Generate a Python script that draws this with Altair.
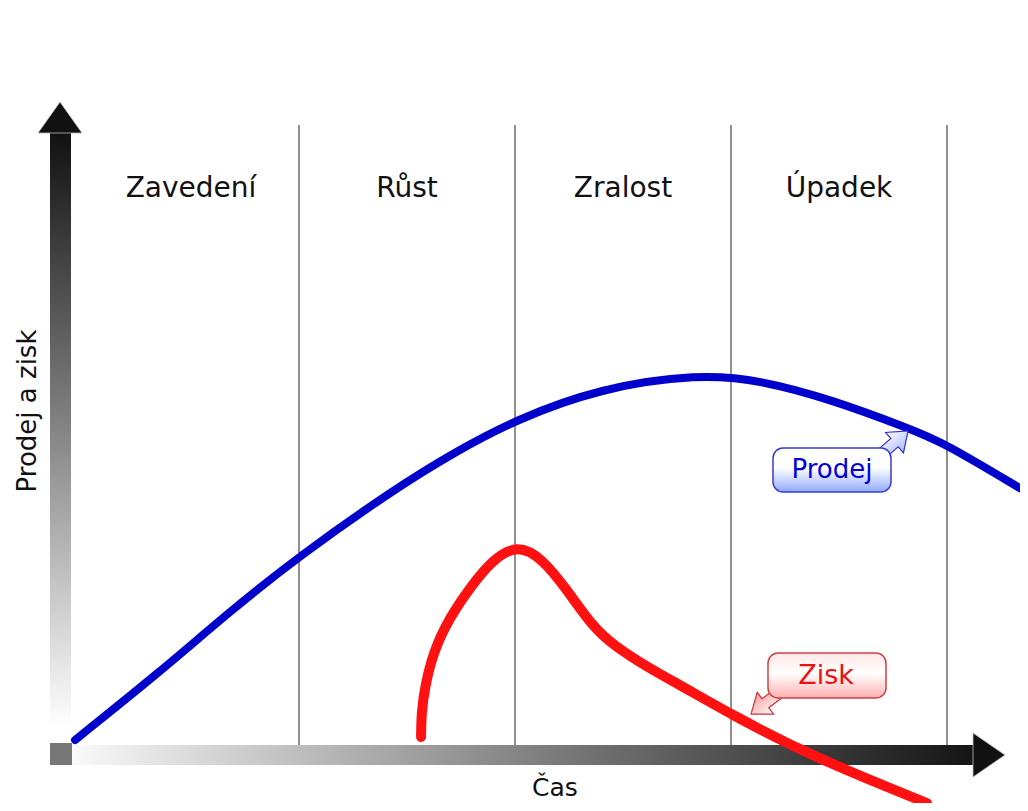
import altair as alt
import pandas as pd

# ---- data (time in phase units, sales/profit in arbitrary units) ----
phase_names = ["Zavedení", "Růst", "Zralost", "Úpadek"]
phase_centers = [0.5, 1.5, 2.5, 3.5]
phase_bounds = [1, 2, 3, 4]

sales_t = [-0.037, 0.356, 0.681, 0.995, 1.435, 1.722, 2.000, 2.394, 2.852,
           3.134, 3.472, 3.819, 3.981, 4.352]
sales_v = [0.33, 11.67, 21.8, 30.83, 42.0, 48.33, 53.67, 59.0, 61.33,
           60.33, 57.0, 52.33, 50.0, 42.0]

profit_t = [1.565, 1.567, 1.583, 1.620, 1.694, 1.801, 1.898, 2.009, 2.125,
            2.241, 2.361, 2.454, 2.625, 2.764, 3.005, 3.380, 3.907]
profit_v = [0.83, 5.0, 9.17, 14.83, 20.6, 26.2, 30.4, 32.9, 30.67,
            25.33, 19.17, 16.17, 12.2, 9.5, 4.5, -2.5, -10.17]

# ---- frame geometry ----
W, H = 1012, 795
def tx(px):
    return (px - 83) / 216.0
def vy(py):
    return (742 - py) / 6.0

XS = alt.Scale(domain=[tx(8), tx(8 + W)], nice=False, zero=False)
YS = alt.Scale(domain=[vy(8 + H), vy(8)], nice=False, zero=False)
FONT = "DejaVu Sans"

def X(f="x"):
    return alt.X(f"{f}:Q", scale=XS, axis=None)
def Y(f="y"):
    return alt.Y(f"{f}:Q", scale=YS, axis=None)

def grad(stops, x2=0, y2=1):
    return alt.LinearGradient(
        gradient="linear",
        stops=[alt.GradientStop(color=c, offset=o) for o, c in stops],
        x1=0, y1=0, x2=x2, y2=y2)

# phase boundaries
bounds = alt.Chart(pd.DataFrame({"x": phase_bounds, "y": vy(125), "y2": vy(745)})).mark_rule(
    color="#6a6a6a", strokeWidth=1.5).encode(x=X(), y=Y(), y2="y2:Q")

# y axis shaft
yshaft = alt.Chart(pd.DataFrame({"x": [tx(50)], "x2": [tx(71)], "y": [vy(133)], "y2": [vy(745)]})).mark_rect(
    fill=grad([(0, "#111111"), (0.5, "#888888"), (0.97, "#ffffff"), (1, "#ffffff")])
).encode(x=X(), x2="x2:Q", y=Y(), y2="y2:Q")

# x axis bar
xbar = alt.Chart(pd.DataFrame({"x": [tx(72)], "x2": [tx(975)], "y": [vy(745)], "y2": [vy(765)]})).mark_rect(
    fill=grad([(0, "#fafafa"), (0.55, "#777777"), (1, "#141414")], x2=1, y2=0)
).encode(x=X(), x2="x2:Q", y=Y(), y2="y2:Q")

square = alt.Chart(pd.DataFrame({"x": [tx(50)], "x2": [tx(72)], "y": [vy(743)], "y2": [vy(765)]})).mark_rect(
    fill="#777777").encode(x=X(), x2="x2:Q", y=Y(), y2="y2:Q")

up_head = alt.Chart(pd.DataFrame({"x": [tx(60)], "y": [vy(117.5)]})).mark_point(
    shape="M -1 0.705 L 0 -0.705 L 1 0.705 Z", size=44 * 44, filled=True,
    fill="#111111", stroke="#bbbbbb", strokeWidth=0.8, opacity=1
).encode(x=X(), y=Y())

right_head = alt.Chart(pd.DataFrame({"x": [tx(989)], "y": [vy(755)]})).mark_point(
    shape="M -0.727 -1 L 0.727 0 L -0.727 1 Z", size=44 * 44, filled=True,
    fill="#111111", stroke="#bbbbbb", strokeWidth=0.8, opacity=1
).encode(x=X(), y=Y())

# curves
sales = alt.Chart(pd.DataFrame({"x": sales_t, "y": sales_v})).mark_line(
    color="#0000cc", strokeWidth=8, strokeCap="round", interpolate="basis"
).encode(x=X(), y=Y())

profit = alt.Chart(pd.DataFrame({"x": profit_t, "y": profit_v})).mark_line(
    color="#ff1111", strokeWidth=10, strokeCap="round", interpolate="basis"
).encode(x=X(), y=Y())

ARROW = "M -1 -0.28 L 0.1 -0.28 L 0.1 -0.68 L 1 0 L 0.1 0.68 L 0.1 0.28 L -1 0.28 Z"

# Prodej callout
p_arrow = alt.Chart(pd.DataFrame({"x": [tx(893)], "y": [vy(444)]})).mark_point(
    shape=ARROW, size=40 * 40, angle=319, filled=True,
    fill=grad([(0, "#ffffff"), (1, "#aabbff")]), stroke="#3333cc", strokeWidth=1.2, opacity=1
).encode(x=X(), y=Y())
p_box = alt.Chart(pd.DataFrame({"x": [tx(773)], "x2": [tx(891)], "y": [vy(448)], "y2": [vy(492)]})).mark_rect(
    cornerRadius=10, fill=grad([(0, "#ffffff"), (0.45, "#ffffff"), (1, "#93aaff")]),
    stroke="#3a3acc", strokeWidth=1.5
).encode(x=X(), x2="x2:Q", y=Y(), y2="y2:Q")
p_text = alt.Chart(pd.DataFrame({"x": [tx(832)], "y": [vy(470)], "t": ["Prodej"]})).mark_text(
    font=FONT, fontSize=26, color="#0000dd", baseline="middle", align="center"
).encode(x=X(), y=Y(), text="t:N")

# Zisk callout
z_arrow = alt.Chart(pd.DataFrame({"x": [tx(767)], "y": [vy(702)]})).mark_point(
    shape=ARROW, size=40 * 40, angle=143, filled=True,
    fill=grad([(0, "#ffffff"), (1, "#ff9a9a")]), stroke="#cc3333", strokeWidth=1.2, opacity=1
).encode(x=X(), y=Y())
z_box = alt.Chart(pd.DataFrame({"x": [tx(768)], "x2": [tx(886)], "y": [vy(653)], "y2": [vy(698)]})).mark_rect(
    cornerRadius=10, fill=grad([(0, "#ffe6e6"), (0.45, "#ffffff"), (1, "#ffb0b0")]),
    stroke="#cc4444", strokeWidth=1.5
).encode(x=X(), x2="x2:Q", y=Y(), y2="y2:Q")
z_text = alt.Chart(pd.DataFrame({"x": [tx(826)], "y": [vy(676)], "t": ["Zisk"]})).mark_text(
    font=FONT, fontSize=27, color="#ee1111", baseline="middle", align="center"
).encode(x=X(), y=Y(), text="t:N")

# phase labels
phases = alt.Chart(pd.DataFrame({"x": phase_centers, "y": vy(189), "t": phase_names})).mark_text(
    font=FONT, fontSize=28, color="#111111", baseline="middle", align="center"
).encode(x=X(), y=Y(), text="t:N")

ytitle = alt.Chart(pd.DataFrame({"x": [tx(28)], "y": [vy(411)], "t": ["Prodej a zisk"]})).mark_text(
    font=FONT, fontSize=26, color="#111111", baseline="middle", align="center", angle=270
).encode(x=X(), y=Y(), text="t:N")

xtitle = alt.Chart(pd.DataFrame({"x": [tx(555)], "y": [vy(788)], "t": ["Čas"]})).mark_text(
    font=FONT, fontSize=25, color="#111111", baseline="middle", align="center"
).encode(x=X(), y=Y(), text="t:N")

chart = alt.layer(
    bounds, yshaft, xbar, square, up_head, right_head,
    sales, profit, p_arrow, p_box, p_text, z_arrow, z_box, z_text,
    phases, ytitle, xtitle
).properties(width=W, height=H, padding=0, autosize="none", background="white"
).configure_view(stroke=None)

chart.save("out.html", embed_options={"renderer": "svg", "actions": False})
